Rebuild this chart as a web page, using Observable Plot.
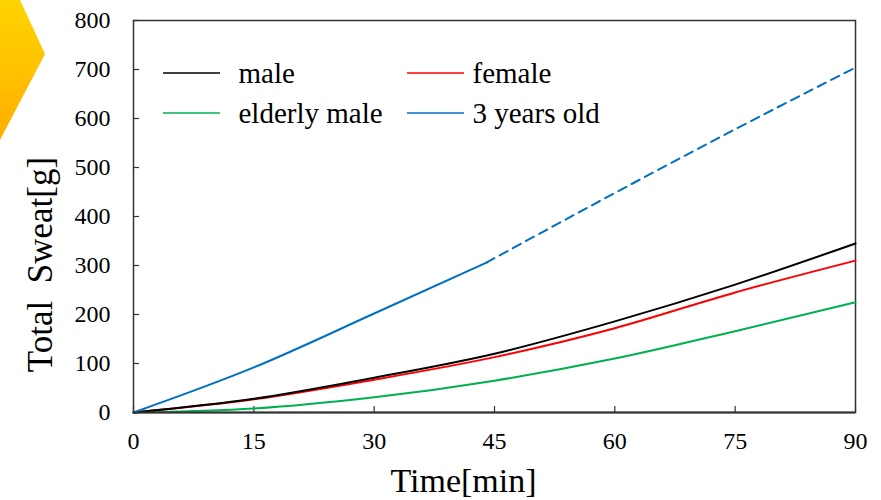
<!DOCTYPE html>
<html>
<head>
<meta charset="utf-8">
<script src="https://cdn.jsdelivr.net/npm/d3@7"></script>
<script src="https://cdn.jsdelivr.net/npm/@observablehq/plot@0.6"></script>
<style>
  html, body { margin: 0; padding: 0; background: #fff; }
  #wrap { position: relative; width: 881px; height: 500px; overflow: hidden; }
  #deco { position: absolute; left: 0; top: 0; }
  #chart { position: absolute; left: 0; top: 0; }
</style>
</head>
<body>
<div id="wrap">
  <svg id="deco" width="881" height="500">
    <defs>
      <linearGradient id="g1" x1="0" y1="0" x2="0" y2="1">
        <stop offset="0" stop-color="#FFD400"/>
        <stop offset="1" stop-color="#FFAE00"/>
      </linearGradient>
    </defs>
    <polygon points="0,0 20,0 45,54 0,140" fill="url(#g1)"/>
  </svg>
  <div id="chart"></div>
</div>
<script>
const times = [0, 15, 30, 45, 60, 75, 90];
const male = [0, 28, 71, 120, 186, 261, 345];
const female = [0, 27, 67, 113, 172, 245, 310];
const elderly = [0, 8, 31, 65, 110, 166, 225];
const kidTimes = [0, 15, 30, 44];
const kid = [0, 92, 202, 306];
const kidDashTimes = [44, 60, 75, 90];
const kidDash = [306, 448, 578, 704];
const xTicks = [0, 15, 30, 45, 60, 75, 90];
const yTicks = [0, 100, 200, 300, 400, 500, 600, 700, 800];
const seriesNames = ["male", "female", "elderly male", "3 years old"];
const seriesColors = ["#000000", "#FF0000", "#00B050", "#0070C0"];

const mk = (ts, vs) => ts.map((t, i) => ({t, v: vs[i]}));
const font = "Liberation Serif, Times New Roman, serif";

// legend entries (layout offsets in pixels relative to the frame's top-left)
const legend = seriesNames.map((name, i) => ({name, color: seriesColors[i], col: i % 2, row: Math.floor(i / 2)}));
const colX = [30, 274];
const textX = [105, 339];
const rowY = [53, 93];

const chart = Plot.plot({
  width: 881,
  height: 500,
  marginLeft: 133,
  marginRight: 26,
  marginTop: 20,
  marginBottom: 88,
  style: {fontFamily: font, background: "transparent", overflow: "visible"},
  x: {domain: [0, 90]},
  y: {domain: [0, 800]},
  marks: [
    Plot.frame({stroke: "#333", strokeWidth: 1.5}),
    Plot.axisY({ticks: yTicks, tickSize: -6, text: null, stroke: "#333", strokeWidth: 1.2, label: null}),
    Plot.text(yTicks, {x: 0, y: d => d, text: d => String(d), textAnchor: "end", dx: -23, fontSize: 24, fontFamily: font, fill: "#000", lineAnchor: "middle"}),
    Plot.axisX({ticks: xTicks, tickSize: -6, text: null, stroke: "#333", strokeWidth: 1.2, label: null}),
    Plot.text(xTicks, {x: d => d, y: 0, text: d => String(d), dy: 29, fontSize: 24, fontFamily: font, fill: "#000", lineAnchor: "middle"}),
    Plot.text(["Total  Sweat[g]"], {frameAnchor: "left", textAnchor: "middle", dx: -93, dy: 48, rotate: -90, fontSize: 35, fontFamily: font, fill: "#000", text: d => d, lineAnchor: "middle"}),
    Plot.text(["Time[min]"], {frameAnchor: "bottom", dx: -31, dy: 69, fontSize: 34, fontFamily: font, fill: "#000", text: d => d, lineAnchor: "middle"}),
    Plot.line(mk(times, elderly), {x: "t", y: "v", stroke: seriesColors[2], strokeWidth: 2, curve: "monotone-x"}),
    Plot.line(mk(times, female), {x: "t", y: "v", stroke: seriesColors[1], strokeWidth: 2, curve: "monotone-x"}),
    Plot.line(mk(times, male), {x: "t", y: "v", stroke: seriesColors[0], strokeWidth: 2, curve: "monotone-x"}),
    Plot.line(mk(kidTimes, kid), {x: "t", y: "v", stroke: seriesColors[3], strokeWidth: 2, curve: "monotone-x"}),
    Plot.line(mk(kidDashTimes, kidDash), {x: "t", y: "v", stroke: seriesColors[3], strokeWidth: 2, strokeDasharray: "9,6", curve: "monotone-x"}),
    Plot.ruleY([0], {stroke: "#333", strokeWidth: 2}),
    // legend swatches
    ...legend.map(d => Plot.line([[0, 0], [1, 0]], {
      x: () => 0, y: () => 0, stroke: d.color, render: (index, scales, values, dimensions) => {
        const x0 = dimensions.marginLeft + colX[d.col];
        const y0 = dimensions.marginTop + rowY[d.row];
        const g = d3.create("svg:g");
        g.append("line").attr("x1", x0).attr("x2", x0 + 57).attr("y1", y0).attr("y2", y0)
          .attr("stroke", d.color).attr("stroke-width", 1.3);
        return g.node();
      }
    })),
    // legend labels
    ...legend.map(d => Plot.text([d.name], {
      frameAnchor: "top-left", dx: textX[d.col], dy: rowY[d.row],
      text: t => t, fontSize: 29, fontFamily: font, fill: "#000", textAnchor: "start", lineAnchor: "middle"
    }))
  ]
});
document.getElementById("chart").appendChild(chart);
</script>
</body>
</html>
